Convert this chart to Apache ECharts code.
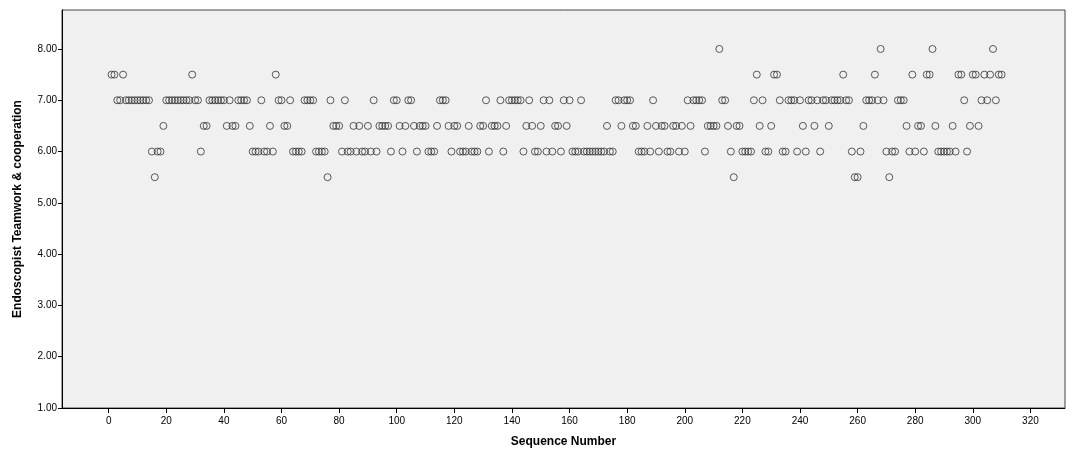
<!DOCTYPE html>
<html lang="en">
<head>
<meta charset="UTF-8">
<title>Endoscopist Teamwork & cooperation</title>
<script src="https://cdn.jsdelivr.net/npm/echarts@6/dist/echarts.min.js"></script>
<style>
	html, body { margin: 0; padding: 0; background: #fff; }
	#chart { width: 1078px; height: 455px; }
</style>
</head>
<body>
	<div id="chart"></div>
	<script type="text/javascript">
		// score for each case, sequence number = position in the list (1..310)
		var teamworkScores = [
			7.5, 7.5, 7, 7, 7.5, 7, 7, 7, 7, 7, 7, 7, 7, 7, 6, 5.5, 6, 6, 6.5, 7,
			7, 7, 7, 7, 7, 7, 7, 7, 7.5, 7, 7, 6, 6.5, 6.5, 7, 7, 7, 7, 7, 7,
			6.5, 7, 6.5, 6.5, 7, 7, 7, 7, 6.5, 6, 6, 6, 7, 6, 6, 6.5, 6, 7.5, 7, 7,
			6.5, 6.5, 7, 6, 6, 6, 6, 7, 7, 7, 7, 6, 6, 6, 6, 5.5, 7, 6.5, 6.5, 6.5,
			6, 7, 6, 6, 6.5, 6, 6.5, 6, 6, 6.5, 6, 7, 6, 6.5, 6.5, 6.5, 6.5, 6, 7, 7,
			6.5, 6, 6.5, 7, 7, 6.5, 6, 6.5, 6.5, 6.5, 6, 6, 6, 6.5, 7, 7, 7, 6.5, 6, 6.5,
			6.5, 6, 6, 6, 6.5, 6, 6, 6, 6.5, 6.5, 7, 6, 6.5, 6.5, 6.5, 7, 6, 6.5, 7, 7,
			7, 7, 7, 6, 6.5, 7, 6.5, 6, 6, 6.5, 7, 6, 7, 6, 6.5, 6.5, 6, 7, 6.5, 7,
			6, 6, 6, 7, 6, 6, 6, 6, 6, 6, 6, 6, 6.5, 6, 6, 7, 7, 6.5, 7, 7,
			7, 6.5, 6.5, 6, 6, 6, 6.5, 6, 7, 6.5, 6, 6.5, 6.5, 6, 6, 6.5, 6.5, 6, 6.5, 6,
			7, 6.5, 7, 7, 7, 7, 6, 6.5, 6.5, 6.5, 6.5, 8, 7, 7, 6.5, 6, 5.5, 6.5, 6.5, 6,
			6, 6, 6, 7, 7.5, 6.5, 7, 6, 6, 6.5, 7.5, 7.5, 7, 6, 6, 7, 7, 7, 6, 7,
			6.5, 6, 7, 7, 6.5, 7, 6, 7, 7, 6.5, 7, 7, 7, 7, 7.5, 7, 7, 6, 5.5, 5.5,
			6, 6.5, 7, 7, 7, 7.5, 7, 8, 7, 6, 5.5, 6, 6, 7, 7, 7, 6.5, 6, 7.5, 6,
			6.5, 6.5, 6, 7.5, 7.5, 8, 6.5, 6, 6, 6, 6, 6, 6.5, 6, 7.5, 7.5, 7, 6, 6.5, 7.5,
			7.5, 6.5, 7, 7.5, 7, 7.5, 8, 7, 7.5, 7.5
		];
		var xTicks = [0, 20, 40, 60, 80, 100, 120, 140, 160, 180, 200, 220, 240, 260, 280, 300, 320];
		var yTicks = [1, 2, 3, 4, 5, 6, 7, 8];

		var points = [];
		for (var i = 0; i < teamworkScores.length; i++) {
			points.push([i + 1, teamworkScores[i]]);
		}

		var mychar = echarts.init(document.getElementById('chart'));
		var font = '"Liberation Sans", Arial, sans-serif';

		var option = {
			animation: false,
			backgroundColor: '#fff',
			grid: {
				left: 62, right: 13, top: 10, bottom: 47,
				show: true,
				backgroundColor: '#f0f0f0',
				borderColor: '#444',
				borderWidth: 1
			},
			xAxis: {
				type: 'value',
				min: -16.2,
				max: 332,
				name: 'Sequence Number',
				nameLocation: 'middle',
				nameGap: 28,
				nameTextStyle: { fontFamily: font, fontWeight: 'bold', fontSize: 12, color: '#000' },
				splitLine: { show: false },
				axisLine: { show: true, onZero: false, lineStyle: { color: '#000', width: 1 } },
				axisTick: { show: true, length: 5, customValues: xTicks, lineStyle: { color: '#000' } },
				axisLabel: {
					customValues: xTicks,
					margin: 8,
					fontFamily: font, fontSize: 10, color: '#000'
				}
			},
			yAxis: {
				type: 'value',
				min: 1,
				max: 8.76,
				name: 'Endoscopist Teamwork & cooperation',
				nameLocation: 'middle',
				nameGap: 38,
				nameTextStyle: { fontFamily: font, fontWeight: 'bold', fontSize: 12, color: '#000' },
				splitLine: { show: false },
				axisLine: { show: true, onZero: false, lineStyle: { color: '#000', width: 1 } },
				axisTick: { show: true, length: 4, customValues: yTicks, lineStyle: { color: '#000' } },
				axisLabel: {
					customValues: yTicks,
					margin: 5,
					fontFamily: font, fontSize: 10, color: '#000',
					formatter: function (v) { return v.toFixed(2); }
				}
			},
			series: [{
				type: 'scatter',
				symbol: 'circle',
				symbolSize: 7,
				data: points,
				itemStyle: { color: 'rgba(0,0,0,0)', borderColor: '#333', borderWidth: 1 },
				emphasis: { disabled: true }
			}]
		};
		mychar.setOption(option);
	</script>
</body>
</html>
